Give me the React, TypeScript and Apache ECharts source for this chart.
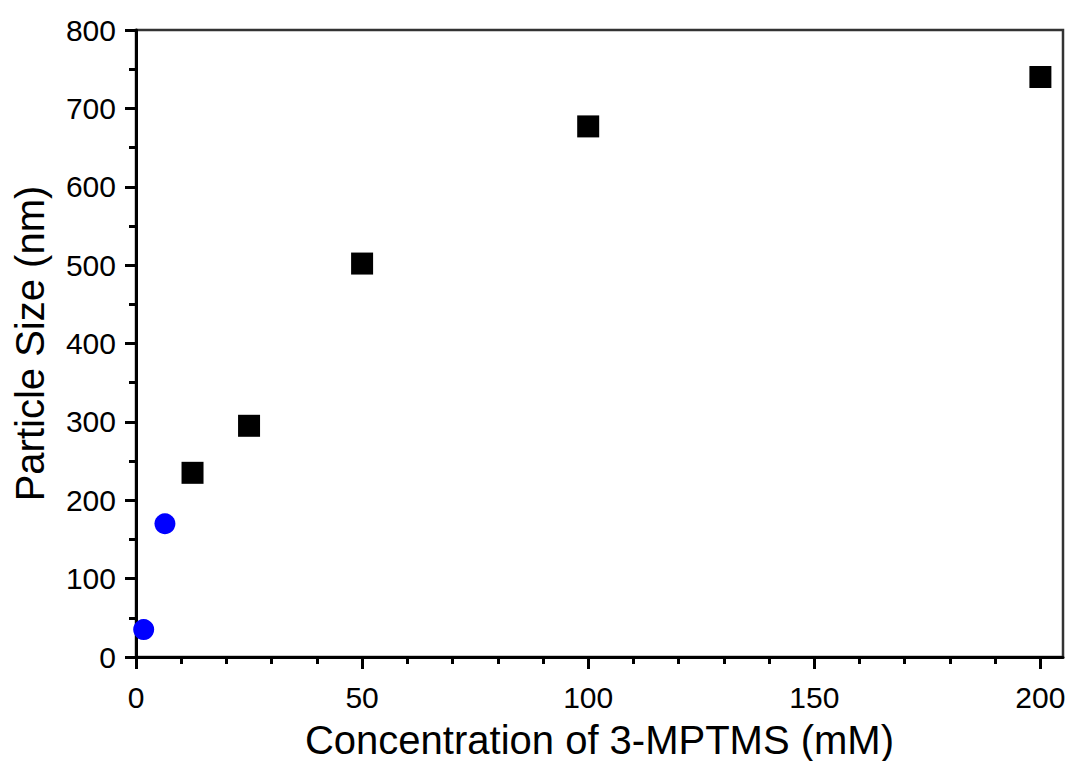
import React, { useEffect, useRef } from "react";
import * as echarts from "echarts";

const circleX = [1.7, 6.4];
const circleY = [35, 170];
const squareX = [12.5, 25, 50, 100, 200];
const squareY = [235, 295, 502, 677, 740];
const xTickLabels = [0, 50, 100, 150, 200];
const xMinorTicks = [10, 20, 30, 40, 60, 70, 80, 90, 110, 120, 130, 140, 160, 170, 180, 190];
const yTickLabels = [0, 100, 200, 300, 400, 500, 600, 700, 800];

export default function App() {
  const ref = useRef<HTMLDivElement>(null);
  useEffect(() => {
    const chart = echarts.init(ref.current!, null, { renderer: "svg" });
    const font = "Liberation Sans, Arial, sans-serif";
    chart.setOption({
      animation: false,
      backgroundColor: "#ffffff",
      grid: {
        left: 136,
        top: 30,
        right: 5,
        bottom: 104,
        outerBoundsMode: "none",
        containLabel: false,
        show: true,
        borderColor: "#333",
        borderWidth: 2.5,
        backgroundColor: "transparent",
      },
      xAxis: [
        {
          type: "value",
          min: 0,
          max: 205,
          interval: 50,
          name: "Concentration of 3-MPTMS (mM)",
          nameLocation: "middle",
          nameGap: 63,
          nameTextStyle: { fontFamily: font, fontSize: 40, color: "#000" },
          axisLine: { show: true, onZero: false, lineStyle: { color: "#000", width: 3 } },
          axisTick: { show: true, length: 12, lineStyle: { color: "#000", width: 3 }, customValues: xTickLabels },
          axisLabel: { fontFamily: font, fontSize: 30, color: "#000", margin: 25, customValues: xTickLabels },
          splitLine: { show: false },
        },
        {
          type: "value",
          min: 0,
          max: 205,
          position: "bottom",
          axisLine: { show: false },
          axisTick: { show: true, length: 7, lineStyle: { color: "#000", width: 3 }, customValues: xMinorTicks },
          axisLabel: { show: false },
          splitLine: { show: false },
        },
      ],
      yAxis: {
        type: "value",
        min: 0,
        max: 800,
        interval: 100,
        name: "Particle Size (nm)",
        nameLocation: "middle",
        nameGap: 86,
        nameTextStyle: { fontFamily: font, fontSize: 40, color: "#000" },
        axisLine: { show: true, onZero: false, lineStyle: { color: "#000", width: 3 } },
        axisTick: { show: true, length: 11, lineStyle: { color: "#000", width: 3 } },
        minorTick: { show: true, splitNumber: 2, length: 7, lineStyle: { color: "#000", width: 3 } },
        axisLabel: { fontFamily: font, fontSize: 30, color: "#000", margin: 20, customValues: yTickLabels },
        splitLine: { show: false },
        minorSplitLine: { show: false },
      },
      series: [
        {
          type: "scatter",
          xAxisIndex: 0,
          symbol: "rect",
          symbolSize: 22,
          itemStyle: { color: "#000", opacity: 1 },
          data: squareX.map((x, i) => [x, squareY[i]]),
        },
        {
          type: "scatter",
          xAxisIndex: 0,
          symbol: "circle",
          symbolSize: 21,
          itemStyle: { color: "#0000ff", opacity: 1 },
          data: circleX.map((x, i) => [x, circleY[i]]),
        },
      ],
    });
    return () => chart.dispose();
  }, []);
  return <div ref={ref} style={{ width: 1068, height: 761, position: "absolute", left: 0, top: 0 }} />;
}
